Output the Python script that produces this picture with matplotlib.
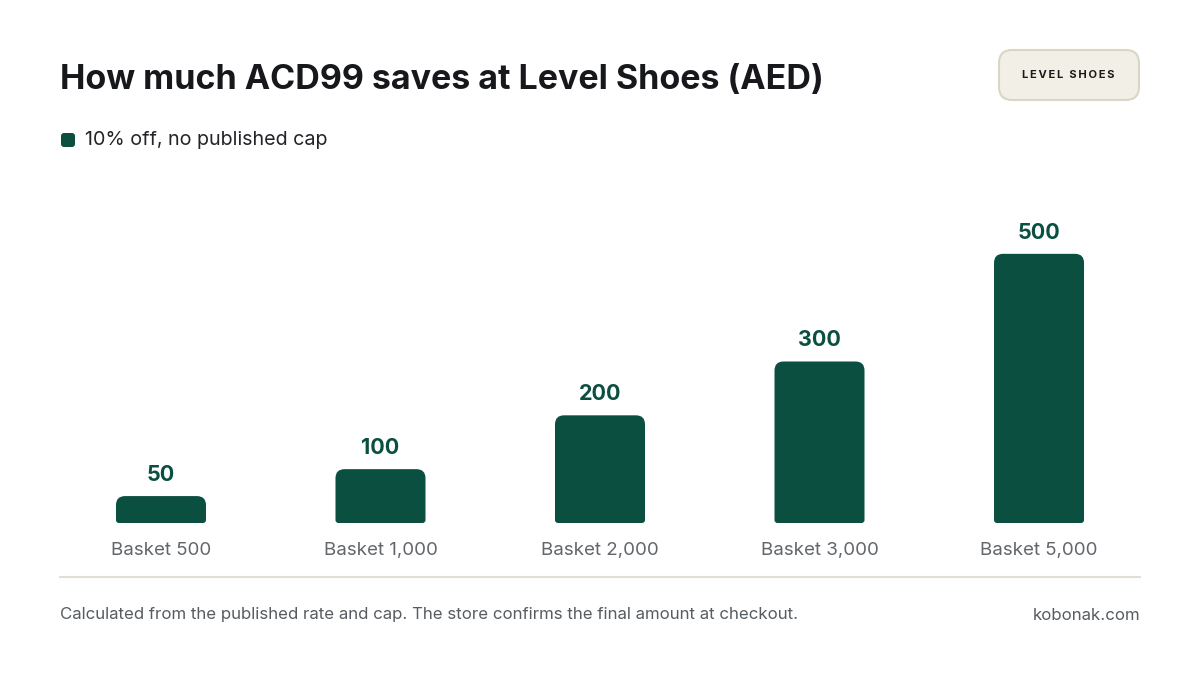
import matplotlib
matplotlib.use("Agg")
import matplotlib.pyplot as plt
from matplotlib.patches import FancyBboxPatch, PathPatch
from matplotlib.path import Path

# chart data
categories = ["Basket 500", "Basket 1,000", "Basket 2,000", "Basket 3,000", "Basket 5,000"]
savings = [50, 100, 200, 300, 500]
value_labels = ["50", "100", "200", "300", "500"]

title = "How much ACD99 saves at Level Shoes (AED)"
legend_label = "10% off, no published cap"
badge_text = "LEVEL SHOES"
footer_left = "Calculated from the published rate and cap. The store confirms the final amount at checkout."
footer_right = "kobonak.com"

GREEN = "#0b4f40"
W, H = 1200, 675

plt.rcParams["font.family"] = ["Inter", "DejaVu Sans"]

fig = plt.figure(figsize=(12, 6.75), dpi=100)
fig.patch.set_facecolor("white")

def fx(px):
    return px / W

def fy(py):
    return 1 - py / H

# axes: baseline at y=523px, top at 200px, x from 60 to 1140
ax = fig.add_axes([fx(60), fy(523), fx(1080), (523 - 200) / H])
ax.set_xlim(-0.46, 4.46)
ax.set_ylim(0, 600)
ax.axis("off")

x = list(range(len(categories)))
bars = ax.bar(x, savings, width=0.41, color=GREEN)

# px -> data unit conversions
x_per_px = 4.92 / 1080
y_per_px = 600 / 323


def rounded_bar_path(x0, w, h, rt, rb):
    # rt/rb: corner radius in px (top/bottom)
    rtx, rty = rt * x_per_px, min(rt * y_per_px, h / 2)
    rbx, rby = rb * x_per_px, min(rb * y_per_px, h / 2)
    x1 = x0 + w
    verts = [
        (x0 + rbx, 0), (x1 - rbx, 0),
        (x1, 0), (x1, rby),
        (x1, h - rty),
        (x1, h), (x1 - rtx, h),
        (x0 + rtx, h),
        (x0, h), (x0, h - rty),
        (x0, rby),
        (x0, 0), (x0 + rbx, 0),
        (x0 + rbx, 0),
    ]
    codes = [Path.MOVETO, Path.LINETO,
             Path.CURVE3, Path.CURVE3,
             Path.LINETO,
             Path.CURVE3, Path.CURVE3,
             Path.LINETO,
             Path.CURVE3, Path.CURVE3,
             Path.LINETO,
             Path.CURVE3, Path.CURVE3,
             Path.CLOSEPOLY]
    return Path(verts, codes)


for b in bars:
    b.set_visible(False)
    p = rounded_bar_path(b.get_x(), b.get_width(), b.get_height(), 9, 3)
    ax.add_patch(PathPatch(p, fc=GREEN, ec="none"))

for xi, v, lab in zip(x, savings, value_labels):
    ax.annotate(lab, (xi, v), xytext=(0, 11), textcoords="offset pixels",
                ha="center", va="bottom", fontsize=15.5, fontweight="bold", color=GREEN)

for xi, cat in zip(x, categories):
    ax.annotate(cat, (xi, 0), xytext=(0, -19), textcoords="offset pixels",
                ha="center", va="top", fontsize=13.5, color="#62666c")

# title
fig.text(fx(60), fy(89), title, fontsize=24.5, fontweight="bold", color="#16181b",
         ha="left", va="baseline")

# badge
badge = FancyBboxPatch((fx(999), fy(100)), fx(140), 50 / H,
                       boxstyle="round,pad=0,rounding_size=0.011",
                       mutation_aspect=W / H,
                       transform=fig.transFigure, fc="#f2efe6", ec="#d9d6c6", lw=1.5)
fig.patches.append(badge)
fig.text(fx(1068.5), fy(75), "\u2009".join(badge_text), fontsize=8, fontweight="bold",
         color="#1a1a1a", ha="center", va="center")

# legend
leg = FancyBboxPatch((fx(61), fy(147)), fx(14), 14 / H,
                     boxstyle="round,pad=0,rounding_size=0.0025",
                     mutation_aspect=W / H,
                     transform=fig.transFigure, fc=GREEN, ec="none")
fig.patches.append(leg)
fig.text(fx(85), fy(140), legend_label, fontsize=14.2, color="#222428",
         ha="left", va="center")

# separator line
fig.add_artist(plt.Line2D([fx(60), fx(1140)], [fy(577), fy(577)], color="#e2dfd2", lw=1.5))

# footer
fig.text(fx(60), fy(615), footer_left, fontsize=12.15, color="#575c62", ha="left", va="center")
fig.text(fx(1140), fy(615), footer_right, fontsize=12.15, color="#575c62", ha="right", va="center")

fig.savefig("out.png", dpi=100, facecolor="white")
